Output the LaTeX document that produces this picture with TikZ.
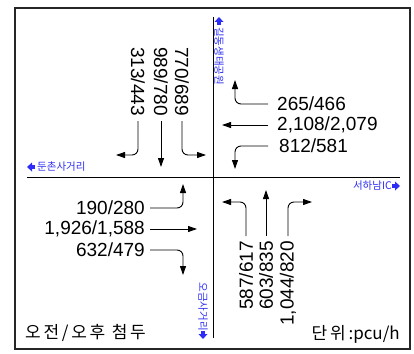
\documentclass[tikz,border=0pt]{standalone}
\usepackage{fontspec}
\setmainfont{Liberation Sans}
\newfontfamily\kor{Noto Sans CJK KR}
\newfontfamily\korwide{Noto Sans CJK KR}[LetterSpace=16]
\usetikzlibrary{arrows.meta}
\definecolor{roadblue}{RGB}{45,45,245}
\tikzset{
	vol/.style={font=\fontsize{19}{19}\selectfont, inner xsep=5pt, inner ysep=0pt},
	flow/.style={-{Triangle[length=9pt,width=6pt]}, line width=0.9pt, rounded corners=6pt},
	road/.style={line width=0.9pt},
	place/.style={font=\kor\fontsize{10.5}{10.5}\selectfont, text=roadblue, inner sep=0pt},
	note/.style={font=\korwide\fontsize{17}{17}\selectfont, inner sep=0pt},
	pics/roadarrow/.style={code={
		\fill[roadblue] (0,-2.3) rectangle (3.5,2.3);
		\fill[roadblue] (3,-4.5) -- (8,0) -- (3,4.5) -- cycle;
	}}
}
\begin{document}
\begin{tikzpicture}[x=1pt,y=-1pt]
	\useasboundingbox (0,0) rectangle (414,353);
	% frame
	\draw [line width=2pt, black!85] (15,8) rectangle (410,349);

	% roads
	\draw [road] (27,177) -- (400,177);
	\draw [road] (213,17) -- (213,338);

	% road names
	\pic [rotate=180] at (35,167) {roadarrow};
	\node [place, anchor=west] (west) at (37,167) {둔촌사거리};
	\pic at (392,186) {roadarrow};
	\node [place, anchor=east] (east) at (392,186) {서하남IC};
	\pic [rotate=90] at (219,25) {roadarrow};
	\node [place, rotate=-90, anchor=west] (north) at (219,27) {길동생태공원};
	\pic [rotate=-90] at (203,331) {roadarrow};
	\node [place, rotate=-90, anchor=east] (south) at (203,331) {오금사거리};

	% north approach
	\coordinate (t313) at (116,155);
	\coordinate (t989) at (161,167);
	\coordinate (t770) at (206,155);
	\node [vol, rotate=-90, anchor=east] (v313) at (138,121) {313/443};
	\node [vol, rotate=-90, anchor=east] (v989) at (161,121) {989/780};
	\node [vol, rotate=-90, anchor=east] (v770) at (182,121) {770/689};
	\draw [flow] (v313.east) |- (t313);
	\draw [flow] (v989.east) -- (t989);
	\draw [flow] (v770.east) |- (t770);

	% east approach
	\coordinate (t265) at (235,80);
	\coordinate (t2108) at (222,125);
	\coordinate (t812) at (235,169);
	\node [vol, inner xsep=9pt, anchor=west] (v265) at (268,104) {265/466};
	\node [vol, inner xsep=9pt, anchor=west] (v2108) at (268,125) {2,108/2,079};
	\node [vol, inner xsep=11pt, anchor=west] (v812) at (268,146) {812/581};
	\draw [flow] (v265.west) -| (t265);
	\draw [flow] (v2108.west) -- (t2108);
	\draw [flow] (v812.west) -| (t812);

	% west approach
	\coordinate (t190) at (183,184);
	\coordinate (t1926) at (197,229);
	\coordinate (t632) at (183,275);
	\node [vol, anchor=east] (v190) at (150,208) {190/280};
	\node [vol, anchor=east] (v1926) at (150,229) {1,926/1,588};
	\node [vol, anchor=east] (v632) at (150,250) {632/479};
	\draw [flow] (v190.east) -| (t190);
	\draw [flow] (v1926.east) -- (t1926);
	\draw [flow] (v632.east) -| (t632);

	% south approach
	\coordinate (t587) at (222,202);
	\coordinate (t603) at (266,190);
	\coordinate (t1044) at (312,202);
	\node [vol, rotate=90, anchor=east] (v587) at (246,236) {587/617};
	\node [vol, rotate=90, anchor=east] (v603) at (266,236) {603/835};
	\node [vol, rotate=90, anchor=east] (v1044) at (288,236) {1,044/820};
	\draw [flow] (v587.east) |- (t587);
	\draw [flow] (v603.east) -- (t603);
	\draw [flow] (v1044.east) |- (t1044);

	% notes
	\node [note, anchor=west] (peak) at (25,333) {오전/오후 첨두};
	\node [note, anchor=east] (unit) at (400,334) {단위\,:{\kor pcu/h}};
\end{tikzpicture}
\end{document}
